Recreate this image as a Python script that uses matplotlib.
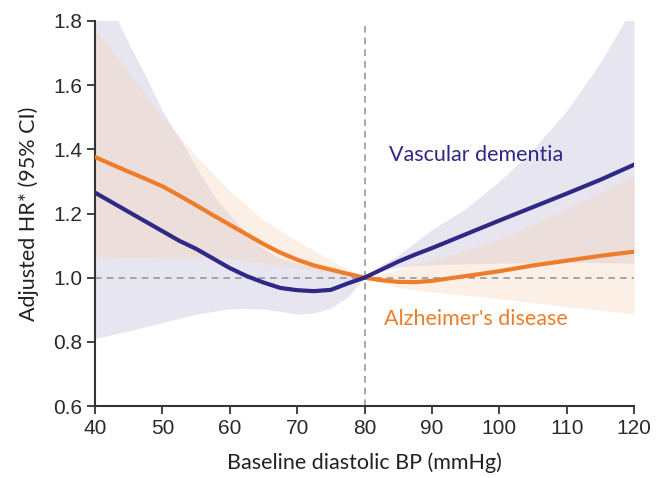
import matplotlib
matplotlib.use("Agg")
import matplotlib.pyplot as plt

# Spline estimates of HR by baseline diastolic BP (reference = 80 mmHg)
vd_dbp = [40, 45, 50, 52.5, 55, 57.5, 60, 62.5, 65, 67.5, 70, 72.5, 75, 77.5,
          80, 82.5, 85, 87.5, 90, 95, 100, 105, 110, 115, 120]
vd_hr = [1.265, 1.205, 1.145, 1.115, 1.09, 1.06, 1.03, 1.005, 0.985, 0.968,
         0.961, 0.958, 0.962, 0.982, 1.0, 1.025, 1.05, 1.072, 1.092, 1.135,
         1.178, 1.22, 1.262, 1.305, 1.352]

ad_dbp = [40, 45, 47.5, 50, 52.5, 55, 57.5, 60, 62.5, 65, 67.5, 70, 72.5, 75,
          77.5, 80, 82.5, 85, 87.5, 90, 95, 100, 105, 110, 115, 120]
ad_hr = [1.376, 1.33, 1.308, 1.285, 1.256, 1.226, 1.195, 1.165, 1.135, 1.105,
         1.078, 1.056, 1.038, 1.025, 1.012, 1.0, 0.992, 0.987, 0.986, 0.99,
         1.005, 1.02, 1.038, 1.053, 1.068, 1.081]

# 95% confidence bands
vd_ci_dbp = [40, 42.5, 45, 47.5, 50, 52.5, 55, 57.5, 60, 62.5, 65, 67.5, 70,
             72.5, 75, 77.5, 80, 82.5, 85, 87.5, 90, 95, 100, 105, 110, 115,
             120]
vd_lo = [0.81, 0.822, 0.834, 0.847, 0.86, 0.873, 0.886, 0.895, 0.903, 0.904,
         0.902, 0.895, 0.886, 0.89, 0.905, 0.94, 1.0, 1.022, 1.032, 1.037,
         1.04, 1.043, 1.045, 1.047, 1.048, 1.047, 1.045]
vd_hi = [1.96, 1.84, 1.73, 1.63, 1.52, 1.435, 1.345, 1.26, 1.195, 1.14, 1.09,
         1.06, 1.045, 1.035, 1.025, 1.012, 1.0, 1.04, 1.07, 1.11, 1.15, 1.215,
         1.3, 1.4, 1.52, 1.67, 1.85]

ad_ci_dbp = [40, 45, 50, 55, 60, 65, 70, 75, 80, 85, 90, 95, 100, 105, 110,
             115, 120]
ad_lo = [1.064, 1.063, 1.062, 1.062, 1.06, 1.045, 1.03, 1.015, 1.0, 0.97,
         0.955, 0.945, 0.935, 0.922, 0.91, 0.898, 0.887]
ad_hi = [1.775, 1.64, 1.5, 1.38, 1.27, 1.18, 1.115, 1.055, 1.0, 1.025, 1.055,
         1.085, 1.12, 1.165, 1.215, 1.265, 1.32]

x_ticks = [40, 50, 60, 70, 80, 90, 100, 110, 120]
y_ticks = [0.6, 0.8, 1.0, 1.2, 1.4, 1.6, 1.8]

NAVY = "#2f2886"
ORANGE = "#ee7d2b"
W, H = 665, 478

fig = plt.figure(figsize=(W / 100, H / 100), dpi=100)
ax = fig.add_axes([95 / W, 1 - 406 / H, 539 / W, 385 / H])

ax.fill_between(vd_ci_dbp, vd_lo, vd_hi,
                color=(178 / 255, 175 / 255, 208 / 255), alpha=0.3, lw=0)
ax.fill_between(ad_ci_dbp, ad_lo, ad_hi,
                color=(248 / 255, 205 / 255, 172 / 255), alpha=0.3, lw=0)

ax.axhline(1.0, color="#999999", lw=1.2, ls=(0, (4, 3)), zorder=1)
ax.axvline(80, color="#999999", lw=1.2, ls=(0, (4, 3)), zorder=1)

ax.plot(ad_dbp, ad_hr, color=ORANGE, lw=3, solid_joinstyle="round", zorder=3)
ax.plot(vd_dbp, vd_hr, color=NAVY, lw=3, solid_joinstyle="round", zorder=4)

# curve labels, placed in figure pixels from the top-left
fig.text(389 / W, 1 - 155 / H, "Vascular dementia", color=NAVY,
         fontsize=15.5, family="Lato", va="center", ha="left")
fig.text(384 / W, 1 - 319 / H, "Alzheimer's disease", color=ORANGE,
         fontsize=15.5, family="Lato", va="center", ha="left")

ax.set_xlim(40, 120)
ax.set_ylim(0.6, 1.8)
ax.set_xticks(x_ticks)
ax.set_yticks(y_ticks)
ax.set_yticklabels([f"{v:.1f}" for v in y_ticks])

for side in ("top", "right"):
    ax.spines[side].set_visible(False)
for side in ("left", "bottom"):
    ax.spines[side].set_color("#333333")
    ax.spines[side].set_linewidth(1.5)
ax.tick_params(direction="out", length=5.5, width=1.3, color="#333333",
               labelsize=15, labelcolor="#2a2a2a", pad=3.5)
for lbl in ax.get_xticklabels() + ax.get_yticklabels():
    lbl.set_family("Liberation Sans")

ax.set_xlabel("Baseline diastolic BP (mmHg)", family="Lato", fontsize=15.5,
              color="#222222", labelpad=11)
ax.set_ylabel("Adjusted HR* (95% CI)", family="Lato", fontsize=15.5,
              color="#222222", labelpad=10)

fig.savefig("out.png", dpi=100)
